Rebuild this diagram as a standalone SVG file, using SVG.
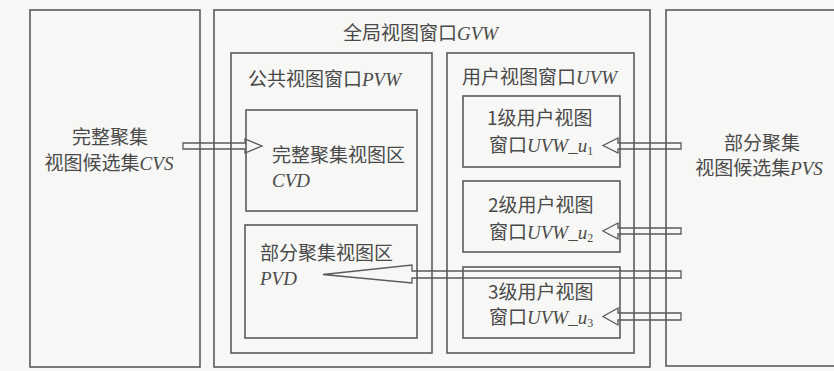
<svg xmlns="http://www.w3.org/2000/svg" width="834" height="371" viewBox="0 0 834 371">
<style>
.box{fill:none;stroke:#5a5a5a;stroke-width:1.6}
.arr{fill:none;stroke:#5a5a5a;stroke-width:1.3;stroke-linejoin:miter}
text{font-family:"Noto Sans CJK SC","Noto Sans CJK TC",sans-serif;font-size:19px;fill:#4a4a4a}
.i{font-family:"Liberation Serif",serif;font-style:italic}
.sub{font-family:"Liberation Serif",serif;font-size:12px}
</style>
<rect x="0" y="0" width="834" height="371" fill="#f7f7f5"/>
<g id="cvs">
<rect class="box" x="30" y="10" width="170" height="357"/>
<text x="110" y="144" text-anchor="middle">完整聚集</text>
<text x="109" y="170" text-anchor="middle">视图候选集<tspan class="i">CVS</tspan></text>
</g>
<g id="gvw">
<rect class="box" x="214" y="10" width="436" height="357"/>
<text x="343" y="40">全局视图窗口<tspan class="i">GVW</tspan></text>
</g>
<g id="pvw">
<rect class="box" x="231" y="53" width="201" height="300"/>
<text x="248" y="86">公共视图窗口<tspan class="i">PVW</tspan></text>
</g>
<g id="cvd">
<rect class="box" x="246" y="110" width="171" height="101"/>
<text x="272" y="162">完整聚集视图区</text>
<text x="272" y="187" class="i">CVD</text>
</g>
<g id="pvd">
<rect class="box" x="245" y="225" width="172" height="113"/>
<text x="260" y="260">部分聚集视图区</text>
<text x="260" y="285" class="i">PVD</text>
</g>
<g id="uvw">
<rect class="box" x="447" y="53" width="187" height="300"/>
<text x="462" y="84">用户视图窗口<tspan class="i">UVW</tspan></text>
</g>
<g id="uvw_u1">
<rect class="box" x="463" y="96" width="157" height="71"/>
<text x="487" y="125">1级用户视图</text>
<text x="489" y="152">窗口<tspan class="i">UVW_u</tspan><tspan class="sub" dy="3">1</tspan></text>
</g>
<g id="uvw_u2">
<rect class="box" x="463" y="181" width="157" height="71"/>
<text x="488" y="212">2级用户视图</text>
<text x="489" y="239">窗口<tspan class="i">UVW_u</tspan><tspan class="sub" dy="3">2</tspan></text>
</g>
<g id="uvw_u3">
<rect class="box" x="463" y="267" width="157" height="71"/>
<text x="488" y="299">3级用户视图</text>
<text x="489" y="324">窗口<tspan class="i">UVW_u</tspan><tspan class="sub" dy="3">3</tspan></text>
</g>
<g id="pvs">
<rect class="box" x="666" y="10" width="180" height="356"/>
<text x="762" y="150" text-anchor="middle">部分聚集</text>
<text x="759" y="175" text-anchor="middle">视图候选集<tspan class="i">PVS</tspan></text>
</g>
<g id="connectors">
<path class="arr" d="M183,143 H245 V139 L262,146 L245,153 V149 H183 Z"/>
<path class="arr" d="M681,143 H618 V138 L603,145.5 L618,153 V149 H681 Z"/>
<path class="arr" d="M681,228 H618 V223 L603,231 L618,239 V234 H681 Z"/>
<path class="arr" d="M681,313 H618 V308 L603,316.5 L618,325 V320 H681 Z"/>
<path class="arr" d="M681,271 H412 V265 L323,274.5 L412,283 V278 H681 Z"/>
</g>
</svg>
